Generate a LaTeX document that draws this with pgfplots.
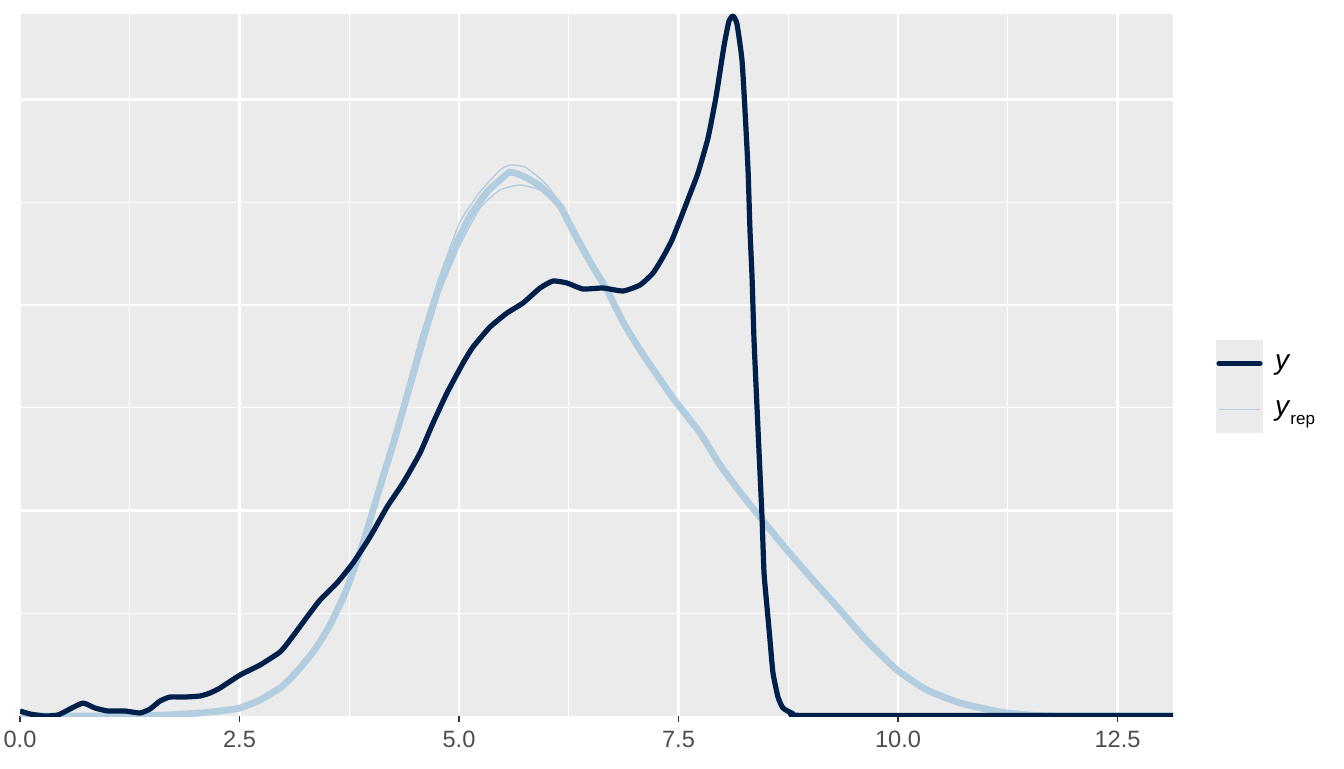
\documentclass[border=0pt]{standalone}
\usepackage{fontspec}
\setmainfont{Liberation Sans}
\usepackage{pgfplots}
\pgfplotsset{compat=1.18}
\definecolor{ggbg}{HTML}{EBEBEB}
\definecolor{ydark}{HTML}{011F4B}
\definecolor{yrep}{HTML}{B3CDE0}
\definecolor{gray30}{HTML}{4D4D4D}
\definecolor{gray20}{HTML}{333333}

\begin{document}
\begin{tikzpicture}
\useasboundingbox (0,0) rectangle (672pt,384pt);
% legend key background
\fill[ggbg] (608pt,167.5pt) rectangle (631.5pt,214pt);
\begin{axis}[
  at={(10pt,26pt)}, anchor=south west,
  scale only axis, width=576.5pt, height=351pt,
  xmin=0, xmax=13.132, ymin=0, ymax=702,
  axis background/.style={fill=ggbg},
  axis line style={draw=none},
  xtick={0,2.5,5,7.5,10,12.5},
  xticklabels={0.0,2.5,5.0,7.5,10.0,12.5},
  minor xtick={1.25,3.75,6.25,8.75,11.25},
  ytick={205.5,411,616.5},
  minor ytick={102.75,308.25,513.75},
  yticklabels={},
  grid=both,
  major grid style={white, line width=1.1pt},
  minor grid style={white, line width=0.55pt},
  tick align=outside,
  xtick pos=lower, ytick pos=left,
  xtick style={gray20, line width=0.9pt},
  ytick style={draw=none},
  major tick length=3pt, minor tick length=0pt,
  x tick label style={font=\fontsize{11.8}{14}\selectfont, text=gray30, inner sep=0pt, yshift=-4.5pt},
  legend style={at={(1.0373,0.4694)}, anchor=west, draw=none, fill=none,
    inner sep=0pt, outer sep=0pt, row sep=0pt, column sep=6pt,
    nodes={inner sep=0pt, outer sep=0pt},
    font=\fontsize{14}{16}\selectfont},
  legend cell align=left,
  legend image code/.code={
    \path[draw=none, fill=none] (0pt,-11.5pt) rectangle (23.5pt,11.5pt);
    \draw[#1] (1.5pt,0pt) -- (22pt,0pt);},
]
\addlegendimage{ydark, line width=2.6pt, line cap=round}
\addlegendentry{\textit{y}}
\addlegendimage{yrep, line width=0.6pt}
\addlegendentry{\textit{y}\raisebox{-0.32em}{\fontsize{8.5}{10}\selectfont rep}}

% replicated densities (band)
\addplot[yrep, line width=3.4pt, smooth, tension=0.3, forget plot] coordinates {
(0,0)(0.911,0)(1.287,0)(1.674,1)(2.050,3)(2.278,5)(2.506,8)(2.733,16)(2.961,28)
(3.075,37)(3.189,48)(3.337,64)(3.451,79)(3.531,91)(3.679,118)(3.759,136)(3.907,173)
(4.021,206)(4.134,239)(4.248,271)(4.362,306)(4.476,341)(4.556,366)(4.636,390)
(4.784,432)(4.932,466)(5.125,500)(5.319,524)(5.467,536)(5.581,544)(5.729,540)
(5.923,530)(6.150,510)(6.298,485)(6.378,472)(6.526,449)(6.686,426)(6.868,394)
(7.062,366)(7.255,341)(7.437,318)(7.745,283)(7.973,251)(8.200,224)(8.428,199)
(8.736,166)(9.032,136)(9.339,106)(9.647,75)(9.989,46)(10.330,26)(10.706,13)
(11.162,4)(11.503,1)(11.845,0)(13.132,0)
};
\addplot[yrep, line width=0.7pt, smooth, tension=0.3, forget plot] coordinates {
(3.907,173)(4.134,246)(4.362,314)(4.556,378)(4.784,441)(5.011,494)(5.239,524)
(5.467,546)(5.581,551)(5.752,549)(5.979,533)(6.207,506)(6.378,478)(6.606,441)(6.868,394)
};
\addplot[yrep, line width=0.7pt, smooth, tension=0.3, forget plot] coordinates {
(3.907,173)(4.362,301)(4.556,364)(4.784,424)(5.011,471)(5.239,508)(5.467,526)
(5.695,531)(5.923,526)(6.150,511)(6.378,476)(6.606,436)(6.868,394)
};

% observed density
\addplot[ydark, line width=2.6pt, line join=round, smooth, tension=0.3, forget plot] coordinates {
(0,5)(0.114,2)(0.285,0)(0.433,1)(0.569,7)(0.718,13)(0.854,8)(1.002,5)(1.196,5)
(1.367,3)(1.481,7)(1.595,15)(1.708,19)(1.879,19)(2.050,20)(2.164,23)(2.278,28)
(2.506,41)(2.733,51)(2.961,64)(3.075,76)(3.269,99)(3.417,116)(3.610,133)(3.793,153)
(3.986,179)(4.180,209)(4.362,233)(4.556,263)(4.704,293)(4.863,323)(5.046,353)
(5.159,369)(5.353,389)(5.547,403)(5.729,413)(5.923,428)(6.071,435)(6.230,433)
(6.412,427)(6.640,428)(6.868,425)(7.062,431)(7.210,443)(7.324,459)(7.426,476)
(7.517,496)(7.631,522)(7.722,543)(7.836,578)(7.927,619)(8.018,670)(8.075,695)
(8.121,700)(8.166,692)(8.223,656)(8.257,606)(8.292,546)(8.314,486)(8.337,440)
(8.360,376)(8.394,309)(8.428,243)(8.451,199)(8.474,143)(8.508,109)(8.542,76)
(8.576,43)(8.633,19)(8.690,8)(8.804,2.5)(8.998,0.5)(13.132,0.5)
};
\end{axis}
\end{tikzpicture}
\end{document}
